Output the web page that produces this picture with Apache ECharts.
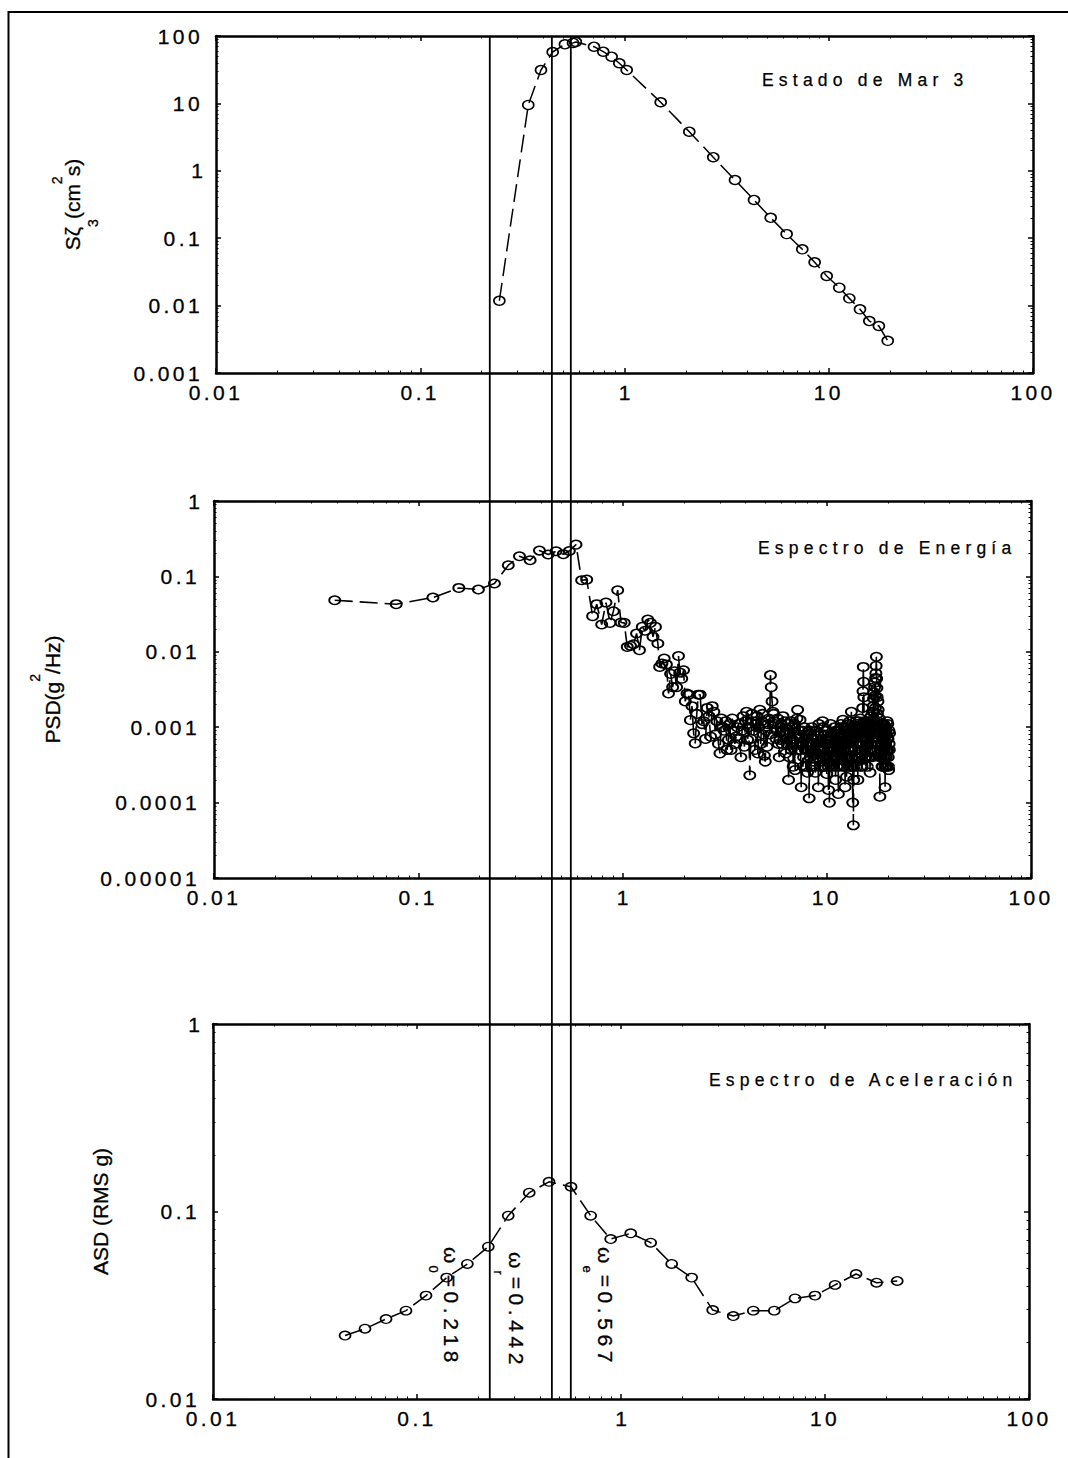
<!DOCTYPE html>
<html>
<head>
<meta charset="utf-8">
<script src="https://cdn.jsdelivr.net/npm/echarts@6.0.0/dist/echarts.min.js"></script>
<style>
html,body{margin:0;padding:0;background:#fff;}
#chart{width:1068px;height:1458px;}
</style>
</head>
<body>
<div id="chart"></div>
<script>
// ---------- tick labels ----------
const xTickLabels = ['0.01', '0.1', '1', '10', '100'];
const yTickLabels1 = ['0.001', '0.01', '0.1', '1', '10', '100'];
const yTickLabels2 = ['0.00001', '0.0001', '0.001', '0.01', '0.1', '1'];
const yTickLabels3 = ['0.01', '0.1', '1'];

// ---------- titles / names ----------
const panelTitles = ['Estado de Mar 3', 'Espectro de Energía', 'Espectro de Aceleración'];
const omegaSubs = ['0', 'r', 'e'];
const omegaValues = ['0.218', '0.442', '0.567'];
// vertical reference lines (frequency)
const markerFreq = [0.219, 0.441, 0.546];

// ---------- panel 1: sea state spectrum ----------
const seaFreq = [0.244, 0.338, 0.390, 0.445, 0.511, 0.56, 0.578, 0.709, 0.787, 0.865, 0.943, 1.025,
  1.504, 2.076, 2.72, 3.475, 4.306, 5.196, 6.22, 7.42, 8.53, 9.77, 11.26, 12.61, 14.22, 15.8, 17.6, 19.44];
const seaSpec = [0.0118, 9.5, 31.3, 57.9, 75.3, 79, 81.5, 69.4, 58.5, 49.3, 39.4, 31.3,
  10.4, 3.8, 1.59, 0.73, 0.369, 0.201, 0.115, 0.0684, 0.0439, 0.0275, 0.01845, 0.0128, 0.0088, 0.0059, 0.00498, 0.003];

// ---------- panel 2: PSD ----------
const psdFreqLow = [0.039, 0.078, 0.118, 0.158, 0.197, 0.236, 0.276, 0.313, 0.353, 0.392,
  0.433, 0.473, 0.513, 0.549, 0.592, 0.631, 0.668, 0.714, 0.748, 0.791,
  0.830, 0.869, 0.902, 0.947, 0.983, 1.02, 1.055, 1.094, 1.133, 1.172,
  1.211, 1.25, 1.29, 1.33, 1.37, 1.41, 1.45, 1.49, 1.52, 1.56,
  1.60, 1.64, 1.68, 1.72, 1.76, 1.80, 1.84, 1.88, 1.91, 1.95,
  1.99, 2.03, 2.07, 2.11, 2.15, 2.19, 2.23, 2.27, 2.31, 2.35];
const psdValLow = [0.0483, 0.0428, 0.0525, 0.0703, 0.067, 0.0804, 0.1406, 0.185, 0.1637, 0.22,
  0.195, 0.2156, 0.197, 0.2175, 0.264, 0.089, 0.0906, 0.0297, 0.0428, 0.023,
  0.045, 0.0242, 0.0345, 0.0656, 0.0245, 0.0242, 0.0116, 0.012, 0.0126, 0.0175,
  0.0105, 0.0214, 0.019, 0.0268, 0.0242, 0.0158, 0.0214, 0.0129, 0.0063, 0.007,
  0.00815, 0.0068, 0.0028, 0.0051, 0.0034, 0.0055, 0.0034, 0.0088, 0.0053, 0.0044,
  0.0057, 0.0022, 0.0028, 0.0027, 0.00124, 0.0019, 0.00083, 0.00061, 0.0015, 0.0027];
const psdFreqHigh = [
  2.4, 2.5, 2.6, 2.7, 2.8, 2.9, 3.0, 3.1, 3.2, 3.3,
  3.4, 3.5, 3.6, 3.7, 3.8, 3.9, 4.0, 4.1, 4.2, 4.3,
  4.4, 4.5, 4.6, 4.7, 4.8, 4.9, 5.0, 5.1, 5.2, 5.3,
  5.4, 5.5, 5.6, 5.7, 5.8, 5.9, 6.0, 6.1, 6.2, 6.3,
  6.4, 6.5, 6.6, 6.7, 6.8, 6.9, 7.0, 7.1, 7.2, 7.3,
  7.4, 7.5, 7.6, 7.7, 7.8, 7.9, 8.0, 8.1, 8.2, 8.3,
  8.4, 8.5, 8.6, 8.7, 8.8, 8.9, 9.0, 9.1, 9.2, 9.3,
  9.4, 9.5, 9.6, 9.7, 9.8, 9.9, 10.0, 10.1, 10.2, 10.3,
  10.4, 10.5, 10.6, 10.7, 10.8, 10.9, 11.0, 11.1, 11.2, 11.3,
  11.4, 11.5, 11.6, 11.7, 11.8, 11.9, 12.0, 12.1, 12.2, 12.3,
  12.4, 12.5, 12.6, 12.7, 12.8, 12.9, 13.0, 13.1, 13.2, 13.3,
  13.4, 13.5, 13.6, 13.7, 13.8, 13.9, 14.0, 14.1, 14.2, 14.3,
  14.4, 14.5, 14.6, 14.7, 14.8, 14.9, 15.0, 15.1, 15.2, 15.3,
  15.4, 15.5, 15.6, 15.7, 15.8, 15.9, 16.0, 16.1, 16.2, 16.3,
  16.4, 16.5, 16.6, 16.7, 16.8, 16.9, 17.0, 17.1, 17.2, 17.3,
  17.4, 17.5, 17.6, 17.7, 17.8, 17.9, 18.0, 18.1, 18.2, 18.3,
  18.4, 18.5, 18.6, 18.7, 18.8, 18.9, 19.0, 19.1, 19.2, 19.3,
  19.4, 19.5, 19.6, 19.7, 19.8, 19.9, 20.0, 20.1, 20.2, 20.3];
const psdValHigh = [
  0.0027, 0.0012, 0.0018, 0.00075, 0.0016, 0.0012, 0.00045, 0.0010, 0.0012, 0.00068,
  0.0005, 0.0009, 0.00075, 0.0011, 0.0004, 0.0014, 0.0012, 0.00068, 0.00023, 0.0015,
  0.0009, 0.0011, 0.00045, 0.0017, 0.0012, 0.0008, 0.00035, 0.00055, 0.0013, 0.0049,
  0.0022, 0.0015, 0.0011, 0.0009, 0.0006, 0.00068, 0.0011, 0.0014, 0.0008, 0.00045,
  0.0006, 0.0002, 0.00083, 0.0005, 0.001, 0.00065, 0.00027, 0.0008, 0.0017, 0.0009,
  0.00125, 0.00016, 0.0006, 0.0004, 0.00068, 0.0003, 0.0005, 0.00087, 0.000114, 0.0004,
  0.0003, 0.0007, 0.00035, 0.0005, 0.00025, 0.0006, 0.0004, 0.00016, 0.0005, 0.0003,
  0.00068, 0.0004, 0.001, 0.0005, 0.0003, 0.0007, 0.00024, 0.0006, 0.000147, 0.0001,
  0.0004, 0.0007, 0.00055, 0.0003, 0.00083, 0.0005, 0.0004, 0.0009, 0.0003, 0.0006,
  0.00013, 0.0005, 0.0008, 0.0004, 0.001, 0.0006, 0.00125, 0.0005, 0.0003, 0.00016,
  0.0007, 0.00022, 0.0009, 0.0004, 0.0011, 0.0005, 0.00068, 0.0003, 0.0016, 0.0004,
  0.0001, 0.00005, 0.0003, 0.0007, 0.0005, 0.0012, 0.0003, 0.0008, 0.0002, 0.0006,
  0.0009, 0.0004, 0.0013, 0.0005, 0.0008, 0.0003, 0.0018, 0.0063, 0.0025, 0.0007,
  0.0004, 0.0011, 0.0006, 0.0009, 0.0003, 0.0007, 0.0012, 0.0005, 0.0008, 0.00025,
  0.0006, 0.0014, 0.0007, 0.0004, 0.001, 0.0019, 0.0029, 0.0012, 0.0039, 0.0018,
  0.0052, 0.0086, 0.0033, 0.0015, 0.0022, 0.0009, 0.0006, 0.0013, 0.00012, 0.0005,
  0.0008, 0.0004, 0.0011, 0.0006, 0.0003, 0.0009, 0.0005, 0.0007, 0.0004, 0.00016,
  0.0006, 0.0009, 0.0005, 0.0003, 0.0007, 0.0011, 0.0004, 0.00027, 0.0006, 0.00083];
const psdFreqMid = [
  2.45, 2.55, 2.65, 2.75, 2.85, 2.95, 3.05, 3.15, 3.25, 3.35,
  3.45, 3.55, 3.65, 3.75, 3.85, 3.95, 4.05, 4.15, 4.25, 4.35,
  4.45, 4.55, 4.65, 4.75, 4.85, 4.95, 5.05, 5.15, 5.25, 5.35,
  5.45, 5.55, 5.65, 5.75, 5.85, 5.95, 6.05, 6.15, 6.25, 6.35,
  6.45, 6.55, 6.65, 6.75, 6.85, 6.95, 7.05, 7.15, 7.25, 7.35,
  7.45, 7.55, 7.65, 7.75, 7.85, 7.95, 8.05, 8.15, 8.25, 8.35,
  8.45, 8.55, 8.65, 8.75, 8.85, 8.95, 9.05, 9.15, 9.25, 9.35,
  9.45, 9.55, 9.65, 9.75, 9.85, 9.95, 10.05, 10.15, 10.25, 10.35,
  10.45, 10.55, 10.65, 10.75, 10.85, 10.95, 11.05, 11.15, 11.25, 11.35,
  11.45, 11.55, 11.65, 11.75, 11.85, 11.95, 12.05, 12.15, 12.25, 12.35,
  12.45, 12.55, 12.65, 12.75, 12.85, 12.95, 13.05, 13.15, 13.25, 13.35,
  13.45, 13.55, 13.65, 13.75, 13.85, 13.95, 14.05, 14.15, 14.25, 14.35,
  14.45, 14.55, 14.65, 14.75, 14.85, 14.95, 15.05, 15.15, 15.25, 15.35,
  15.45, 15.55, 15.65, 15.75, 15.85, 15.95, 16.05, 16.15, 16.25, 16.35,
  16.45, 16.55, 16.65, 16.75, 16.85, 16.95, 17.05, 17.15, 17.25, 17.35,
  17.45, 17.55, 17.65, 17.75, 17.85, 17.95, 18.05, 18.15, 18.25, 18.35,
  18.45, 18.55, 18.65, 18.75, 18.85, 18.95, 19.05, 19.15, 19.25, 19.35,
  19.45, 19.55, 19.65, 19.75, 19.85, 19.95, 20.05, 20.15, 20.25];
const psdValMid = [
  0.0011, 0.0007, 0.0014, 0.0019, 0.0008, 0.0006, 0.0013, 0.0009, 0.0005, 0.0011,
  0.0013, 0.0006, 0.0010, 0.0007, 0.0009, 0.00055, 0.0016, 0.0010, 0.0007, 0.0012,
  0.0005, 0.0014, 0.0010, 0.0006, 0.0015, 0.00042, 0.0009, 0.0011, 0.0008, 0.0034,
  0.0016, 0.0012, 0.0007, 0.0013, 0.0004, 0.0010, 0.0006, 0.0009, 0.0012, 0.0007,
  0.0011, 0.0004, 0.0012, 0.0007, 0.0003, 0.0011, 0.0006, 0.0013, 0.0005, 0.0008,
  0.0005, 0.0009, 0.0003, 0.0010, 0.0005, 0.0008, 0.00025, 0.0006, 0.0009, 0.0006,
  0.0010, 0.0005, 0.0008, 0.0003, 0.0009, 0.00045, 0.0007, 0.0011, 0.00035, 0.0008,
  0.0005, 0.0012, 0.0003, 0.0008, 0.0006, 0.0004, 0.0009, 0.0003, 0.0007, 0.0005,
  0.0011, 0.0003, 0.0008, 0.0006, 0.0004, 0.0010, 0.0002, 0.0006, 0.0008, 0.0004,
  0.0009, 0.0003, 0.0006, 0.0011, 0.0004, 0.0008, 0.0003, 0.0010, 0.0006, 0.0009,
  0.0004, 0.0010, 0.0006, 0.0003, 0.0008, 0.0012, 0.0005, 0.0009, 0.0007, 0.0003,
  0.0008, 0.0002, 0.0010, 0.0004, 0.0009, 0.0006, 0.0011, 0.0004, 0.0008, 0.0012,
  0.0006, 0.0009, 0.0003, 0.0010, 0.0005, 0.0011, 0.0030, 0.0040, 0.0012, 0.0005,
  0.0009, 0.0004, 0.0012, 0.0006, 0.0010, 0.0004, 0.0008, 0.0011, 0.0004, 0.0009,
  0.0012, 0.0005, 0.0010, 0.0016, 0.0008, 0.0024, 0.0016, 0.0034, 0.0026, 0.0045,
  0.0065, 0.0044, 0.0025, 0.0012, 0.0017, 0.0007, 0.0010, 0.0004, 0.0008, 0.0011,
  0.0005, 0.0009, 0.0003, 0.0010, 0.0006, 0.0004, 0.0011, 0.0005, 0.0008, 0.0003,
  0.0010, 0.0004, 0.0008, 0.0012, 0.0005, 0.0007, 0.0003, 0.0009, 0.0005];

// ---------- panel 3: ASD ----------
const asdFreq = [0.0444, 0.0556, 0.0705, 0.0883, 0.1107, 0.1398, 0.1765, 0.2236, 0.280, 0.355,
  0.4436, 0.569, 0.710, 0.89, 1.116, 1.398, 1.772, 2.22, 2.815, 3.55,
  4.45, 5.64, 7.13, 8.93, 11.2, 14.2, 17.9, 22.6];
const asdVal = [0.0218, 0.0237, 0.0267, 0.0296, 0.0356, 0.0444, 0.0525, 0.0649, 0.095, 0.126,
  0.144, 0.1355, 0.095, 0.0713, 0.0765, 0.0682, 0.0525, 0.0444, 0.0298, 0.0277,
  0.0296, 0.0296, 0.0344, 0.0356, 0.0406, 0.0464, 0.0417, 0.0426];

// ---------- helpers ----------
const FONT = '"Liberation Sans", Arial, sans-serif';
const BLACK = '#000';
const TB = 0.3; // slight text stroke to match the heavier original rendering
const zip = (xs, ys) => xs.map((x, i) => [x, ys[i]]);
const fmt = labels => v => {
  const hit = labels.find(l => Math.abs(Math.log10(+l) - Math.log10(v)) < 1e-6);
  return hit || '';
};
const psdData = zip(psdFreqLow, psdValLow)
  .concat(zip(psdFreqHigh, psdValHigh))
  .concat(zip(psdFreqMid, psdValMid))
  .sort((a, b) => a[0] - b[0]);

function logAxis(grid, position, min, max, labels, margin) {
  return {
    type: 'log', logBase: 10, gridIndex: grid, position, min, max,
    axisLine: {show: true, onZero: false, lineStyle: {color: BLACK, width: 2.5}},
    axisTick: {show: true, inside: true, length: 5, lineStyle: {color: BLACK, width: 1.5}},
    minorTick: {show: true, splitNumber: 9, length: 2.5, lineStyle: {color: BLACK, width: 1}},
    splitLine: {show: false},
    minorSplitLine: {show: false},
    axisLabel: labels ? {
      show: true, margin, fontSize: 21, fontFamily: FONT, color: BLACK,
      textBorderColor: BLACK, textBorderWidth: TB, formatter: fmt(labels)
    } : {show: false}
  };
}

const tokenStyle = (size, lh, padding) => {
  const s = {fontSize: size, fontFamily: FONT, color: BLACK, lineHeight: lh, verticalAlign: 'middle',
    textBorderColor: BLACK, textBorderWidth: TB};
  if (padding) s.padding = padding;
  return s;
};
const nameStyle = (rich) => ({fontSize: 21, fontFamily: FONT, color: BLACK,
  textBorderColor: BLACK, textBorderWidth: TB, rich});

const xAxes = [
  logAxis(0, 'bottom', 0.01, 100, xTickLabels, 9),
  logAxis(0, 'top', 0.01, 100, null),
  logAxis(1, 'bottom', 0.01, 100, xTickLabels, 9),
  logAxis(1, 'top', 0.01, 100, null),
  logAxis(2, 'bottom', 0.01, 100, xTickLabels, 9),
  logAxis(2, 'top', 0.01, 100, null),
  {type: 'log', logBase: 10, gridIndex: 3, min: 0.01, max: 100, show: false}
];

const y1 = logAxis(0, 'left', 0.001, 100, yTickLabels1, 13);
y1.name = '{n|Sζ}{sub|3}{n|(cm}{sup|2}{n|s)}';
y1.nameLocation = 'middle'; y1.nameRotate = 90; y1.nameGap = 133;
y1.nameTextStyle = nameStyle({
  n: tokenStyle(21, 21),
  sub: tokenStyle(14, 14, [40, 0, 0, 0]),
  sup: tokenStyle(14, 14, [0, 0, 32, 0])
});

const y2 = logAxis(1, 'left', 0.00001, 1, yTickLabels2, 14);
y2.name = '{n|PSD(g}{sup|2}{n|/Hz)}';
y2.nameLocation = 'middle'; y2.nameRotate = 90; y2.nameGap = 151;
y2.nameTextStyle = nameStyle({
  n: tokenStyle(21, 21),
  sup: tokenStyle(14, 14, [0, 0, 36, 0])
});

const y3 = logAxis(2, 'left', 0.01, 1, yTickLabels3, 13);
y3.name = 'ASD (RMS g)';
y3.nameLocation = 'middle'; y3.nameRotate = 90; y3.nameGap = 102;
y3.nameTextStyle = {fontSize: 21, fontFamily: FONT, color: BLACK, lineHeight: 21,
  textBorderColor: BLACK, textBorderWidth: TB};

const yAxes = [
  y1,
  logAxis(0, 'right', 0.001, 100, null),
  y2,
  logAxis(1, 'right', 0.00001, 1, null),
  y3,
  logAxis(2, 'right', 0.01, 1, null),
  {type: 'value', gridIndex: 3, min: 0, max: 1, show: false}
];

const markerStyle = {
  type: 'line', showAllSymbol: true, symbol: 'circle',
  itemStyle: {color: 'transparent', borderColor: BLACK, borderWidth: 1.5},
  lineStyle: {color: BLACK, width: 1.5, type: [18, 7]},
  emphasis: {disabled: true}, animation: false, z: 4
};

const series = [
  Object.assign({}, markerStyle, {
    name: 'Estado de Mar 3', xAxisIndex: 0, yAxisIndex: 0, symbolSize: [11, 9],
    data: zip(seaFreq, seaSpec)
  }),
  Object.assign({}, markerStyle, {
    name: 'PSD', xAxisIndex: 2, yAxisIndex: 2, symbolSize: [11, 8.5],
    itemStyle: {color: 'transparent', borderColor: BLACK, borderWidth: 1.7},
    lineStyle: {color: BLACK, width: 1.6, type: [18, 7]},
    data: psdData
  }),
  Object.assign({}, markerStyle, {
    name: 'ASD', xAxisIndex: 4, yAxisIndex: 4, symbolSize: [11, 8.5],
    data: zip(asdFreq, asdVal)
  })
].concat(markerFreq.map((f, i) => ({
  type: 'line', name: 'ref' + i, xAxisIndex: 6, yAxisIndex: 6, symbol: 'none',
  data: [[f, 0], [f, 1]], lineStyle: {color: BLACK, width: 1.8}, silent: true, z: 3, animation: false
})));

const omegaRich = {
  w: {fontSize: 21, fontFamily: FONT, fill: BLACK, stroke: BLACK, lineWidth: TB, lineHeight: 21, verticalAlign: 'middle'},
  s: {fontSize: 13, fontFamily: FONT, fill: BLACK, stroke: BLACK, lineWidth: TB, lineHeight: 13, padding: [36, 2, 0, 2], verticalAlign: 'middle'},
  m: {fontSize: 21, fontFamily: FONT, fill: BLACK, stroke: BLACK, lineWidth: TB, lineHeight: 21, verticalAlign: 'middle'}
};
const omegaPos = [[451, 1247], [516, 1252], [605, 1247]];
const titlePos = [[762, 79.5], [758, 547.5], [709, 1079.5]];

const graphic = [
  {type: 'rect', silent: true, shape: {x: 8.5, y: 12, width: 1200, height: 1600},
    style: {fill: 'none', stroke: BLACK, lineWidth: 2}}
].concat(panelTitles.map((t, i) => ({
  type: 'text', x: titlePos[i][0], y: titlePos[i][1], silent: true,
  style: {text: t, fontSize: 17.5, fontFamily: FONT, fill: BLACK, stroke: BLACK, lineWidth: 0.25,
    align: 'left', verticalAlign: 'middle'}
}))).concat(omegaValues.map((v, i) => ({
  type: 'text', x: omegaPos[i][0], y: omegaPos[i][1], rotation: -Math.PI / 2, silent: true,
  style: {text: '{w|ω}{s|' + omegaSubs[i] + '}{m|=' + v + '}', rich: omegaRich,
    fill: BLACK, align: 'left', verticalAlign: 'middle'}
})));

const option = {
  backgroundColor: '#fff',
  animation: false,
  grid: [
    {left: 216, top: 36, width: 817, height: 337},
    {left: 214, top: 501, width: 817, height: 377},
    {left: 213, top: 1024, width: 816, height: 375},
    {left: 216, top: 36, width: 817, height: 1363}
  ],
  xAxis: xAxes,
  yAxis: yAxes,
  series,
  graphic
};

const chart = echarts.init(document.getElementById('chart'), null, {renderer: 'svg'});
chart.setOption(option);

// letter spacing as in the original figure
function applySpacing() {
  document.querySelectorAll('#chart svg text').forEach(t => {
    const s = t.textContent;
    let ls = 0;
    if (panelTitles.indexOf(s) >= 0) ls = 5.2;
    else if (/^=/.test(s)) ls = 4.6;
    else if (/^[0-9.]+$/.test(s) && s.length > 1) ls = 3.4;
    if (ls) t.style.letterSpacing = ls + 'px';
  });
}
applySpacing();
chart.on('finished', applySpacing);
</script>
</body>
</html>
